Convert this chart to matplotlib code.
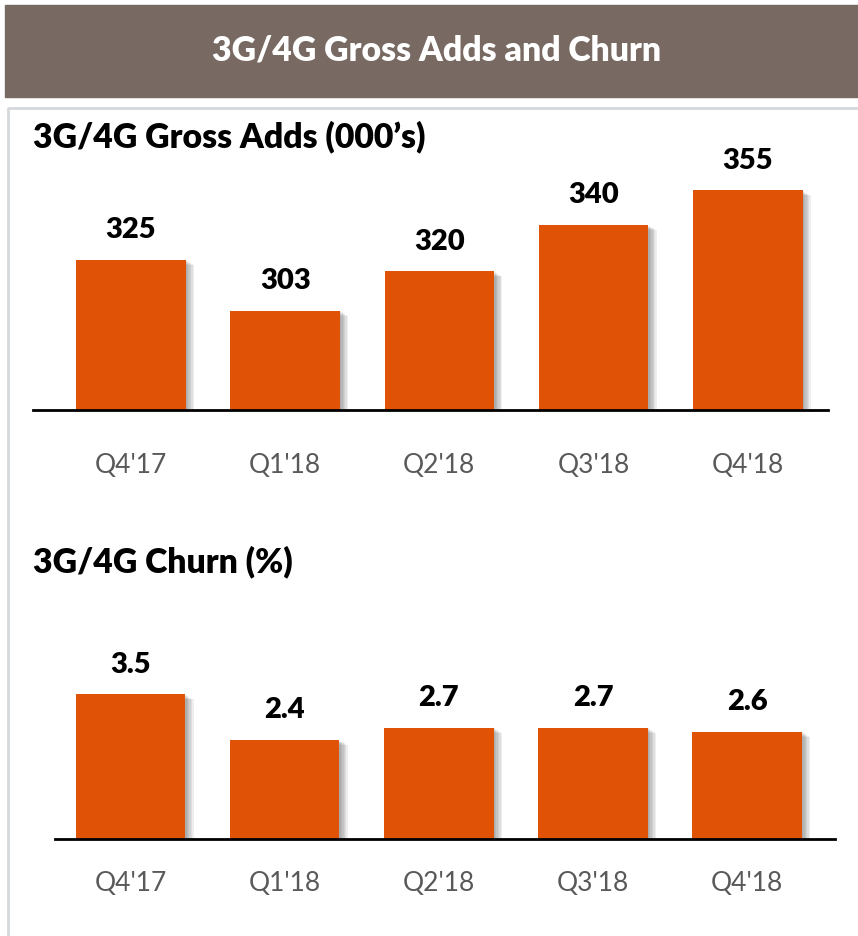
import matplotlib.pyplot as plt
import matplotlib.patheffects as pe
from matplotlib.patches import Rectangle
from matplotlib.lines import Line2D

quarters = ["Q4'17", "Q1'18", "Q2'18", "Q3'18", "Q4'18"]
gross_adds = [325, 303, 320, 340, 355]
churn = [3.5, 2.4, 2.7, 2.7, 2.6]

W, H = 858, 936
BAR = "#E05206"
plt.rcParams["font.family"] = ["Lato", "DejaVu Sans"]

fig = plt.figure(figsize=(W / 100, H / 100), dpi=100)
fig.patch.set_facecolor("white")


def box(x0, y0, x1, y1):
    # pixel box (top-left origin) -> figure fraction rect
    return [x0 / W, 1 - y1 / H, (x1 - x0) / W, (y1 - y0) / H]


# header band
fig.patches.append(Rectangle((5 / W, 1 - 97 / H), (W - 5) / W, 92 / H,
                             transform=fig.transFigure, color="#786A62", zorder=0))
fig.text(437 / W, 1 - 51 / H, "3G/4G Gross Adds and Churn", color="white",
         fontsize=24.3, fontweight="heavy", ha="center", va="center")

# panel border (top + left)
fig.lines.append(Line2D([8 / W, 8 / W, 1], [0, 1 - 108 / H, 1 - 108 / H],
                        transform=fig.transFigure, color="#D5D8DC", lw=2))

# soft drop shadow built from a few faint offset copies
shadow = [pe.SimplePatchShadow(offset=(d, -d * 0.6), shadow_rgbFace="#444444", alpha=0.09)
          for d in (1, 2, 3, 4, 5, 6)] + [pe.Normal()]


def panel(rect, vals, ylim, xlim, fmt, title, title_y, pad):
    ax = fig.add_axes(rect)
    x = range(len(vals))
    bars = ax.bar(x, vals, width=0.71, color=BAR, zorder=2)
    for b in bars:
        b.set_path_effects(shadow)
    for xi, v in zip(x, vals):
        ax.annotate(fmt.format(v), (xi, v), xytext=(0, 12), textcoords="offset points",
                    ha="center", va="bottom", fontsize=21, fontweight="heavy", color="black")
    ax.set_ylim(*ylim)
    ax.set_xlim(*xlim)
    ax.set_xticks(list(x))
    ax.set_xticklabels(quarters, fontsize=19, color="#595959")
    ax.tick_params(axis="x", length=0, pad=pad)
    ax.set_yticks([])
    for s in ["top", "left", "right"]:
        ax.spines[s].set_visible(False)
    ax.spines["bottom"].set_linewidth(2)
    ax.spines["bottom"].set_color("black")
    ax.set_facecolor("none")
    fig.text(33 / W, 1 - title_y / H, title, fontsize=24.3, fontweight="heavy",
             ha="left", va="center", color="black")
    return ax


panel(box(33, 150, 828, 410), gross_adds, (260, 372.5), (-0.635, 4.52),
      "{:d}", "3G/4G Gross Adds (000\u2019s)", 137, 31)
panel(box(55, 640, 835, 839), churn, (0, 4.82), (-0.49, 4.57),
      "{:.1f}", "3G/4G Churn (%)", 562, 23)

fig.savefig("out.png", dpi=100)
